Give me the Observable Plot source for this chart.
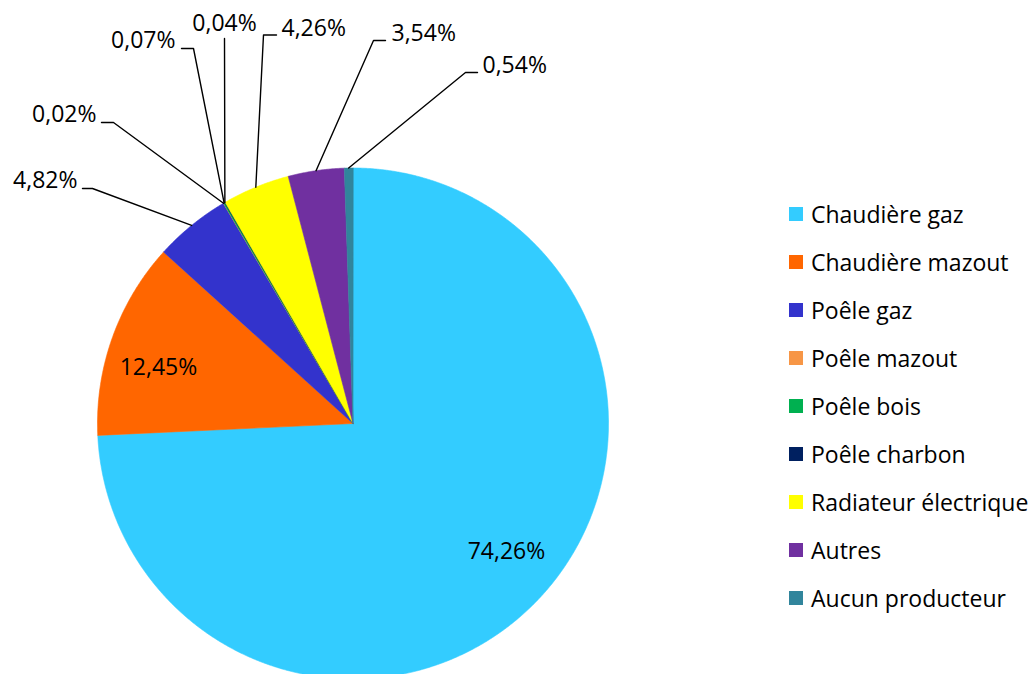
<!DOCTYPE html>
<html>
<head>
<meta charset="utf-8">
<script src="https://cdn.jsdelivr.net/npm/d3@7"></script>
<script src="https://cdn.jsdelivr.net/npm/@observablehq/plot@0.6"></script>
<style>
  html, body { margin: 0; padding: 0; background: #fff; }
  #wrap { position: relative; width: 1035px; height: 674px; overflow: hidden; font-family: "Open Sans", sans-serif; }
  #chart { position: absolute; left: 0; top: 0; }
  #legend { position: absolute; left: 789px; top: 190px; }
  .row { height: 48px; display: flex; align-items: center; font-size: 23px; color: #000; white-space: nowrap; }
  .sw { width: 14px; height: 14px; margin-right: 8px; flex: none; }
</style>
</head>
<body>
<div id="wrap"><div id="chart"></div><div id="legend"></div></div>
<script>
// ---- data ----
const categories = ["Chaudière gaz", "Chaudière mazout", "Poêle gaz", "Poêle mazout", "Poêle bois", "Poêle charbon", "Radiateur électrique", "Autres", "Aucun producteur"];
const values = [74.26, 12.45, 4.82, 0.02, 0.07, 0.04, 4.26, 3.54, 0.54];
const labels = ["74,26%", "12,45%", "4,82%", "0,02%", "0,07%", "0,04%", "4,26%", "3,54%", "0,54%"];
const colors = ["#33CCFF", "#FF6600", "#3333CC", "#F79646", "#00B050", "#002060", "#FFFF00", "#7030A0", "#31859C"];

// ---- layout (pixels) ----
const W = 780, H = 674;
const cx = 352.5, cy = 423, R = 255.5;
// inside labels: [category index, x, y]
const insideLayout = [[0, 506, 551], [1, 158, 367]];
// outside labels: category index, elbow, end of horizontal tick, text position, anchor
const outsideLayout = [
  {i: 2, elbow: [92, 188], end: [82, 188], text: [77, 180], anchor: "end"},
  {i: 3, elbow: [113, 122], end: [101, 122], text: [96, 114], anchor: "end"},
  {i: 4, elbow: [193, 48], end: [181, 48], text: [175, 40], anchor: "end"},
  {i: 5, elbow: [224, 38], end: [224, 38], text: [224, 23.5], anchor: "middle"},
  {i: 6, elbow: [263, 34.5], end: [276, 34.5], text: [281, 28], anchor: "start"},
  {i: 7, elbow: [373, 40], end: [385, 40], text: [391, 33], anchor: "start"},
  {i: 8, elbow: [465, 72], end: [477, 72], text: [482, 65], anchor: "start"}
];

// ---- derived geometry ----
const total = d3.sum(values);
const polar = (a, r) => [cx + r * Math.sin(a), cy - r * Math.cos(a)];
let acc = 0;
const slices = values.map((v, i) => {
  const a0 = acc / total * 2 * Math.PI;
  acc += v;
  const a1 = acc / total * 2 * Math.PI;
  return {name: categories[i], a0, a1, mid: (a0 + a1) / 2};
});
const piePts = [];
slices.forEach(s => {
  const n = Math.max(2, Math.ceil((s.a1 - s.a0) / (Math.PI / 720)));
  piePts.push({name: s.name, x: cx, y: cy});
  for (let k = 0; k <= n; k++) {
    const [x, y] = polar(s.a0 + (s.a1 - s.a0) * k / n, R);
    piePts.push({name: s.name, x, y});
  }
});
const leaderPts = [];
outsideLayout.forEach(o => {
  const [ax, ay] = polar(slices[o.i].mid, R);
  leaderPts.push({id: o.i, x: ax, y: ay});
  leaderPts.push({id: o.i, x: o.elbow[0], y: o.elbow[1]});
  leaderPts.push({id: o.i, x: o.end[0], y: o.end[1]});
});
const outsideText = outsideLayout.map(o => ({label: labels[o.i], x: o.text[0], y: o.text[1], anchor: o.anchor}));
const insideText = insideLayout.map(([i, x, y]) => ({label: labels[i], x, y}));

const plot = Plot.plot({
  width: W, height: H, margin: 0,
  style: {fontFamily: "Open Sans, sans-serif", background: "#fff"},
  x: {domain: [0, W], range: [0, W], axis: null},
  y: {domain: [0, H], range: [0, H], axis: null},
  color: {domain: categories, range: colors},
  marks: [
    Plot.line(piePts, {x: "x", y: "y", z: "name", fill: "name", stroke: "name", strokeWidth: 0.6, curve: "linear-closed"}),
    Plot.line(leaderPts, {x: "x", y: "y", z: "id", stroke: "#000", strokeWidth: 1.4}),
    Plot.text(outsideText.filter(d => d.anchor === "end"), {x: "x", y: "y", text: "label", textAnchor: "end", fontSize: 23, fill: "#000"}),
    Plot.text(outsideText.filter(d => d.anchor === "start"), {x: "x", y: "y", text: "label", textAnchor: "start", fontSize: 23, fill: "#000"}),
    Plot.text(outsideText.filter(d => d.anchor === "middle"), {x: "x", y: "y", text: "label", textAnchor: "middle", fontSize: 23, fill: "#000"}),
    Plot.text(insideText, {x: "x", y: "y", text: "label", fontSize: 23, fill: "#000"})
  ]
});
document.getElementById("chart").appendChild(plot);

const legend = document.getElementById("legend");
categories.forEach((c, i) => {
  const row = document.createElement("div");
  row.className = "row";
  const sw = document.createElement("span");
  sw.className = "sw";
  sw.style.background = colors[i];
  const t = document.createElement("span");
  t.textContent = c;
  row.appendChild(sw);
  row.appendChild(t);
  legend.appendChild(row);
});
</script>
</body>
</html>
